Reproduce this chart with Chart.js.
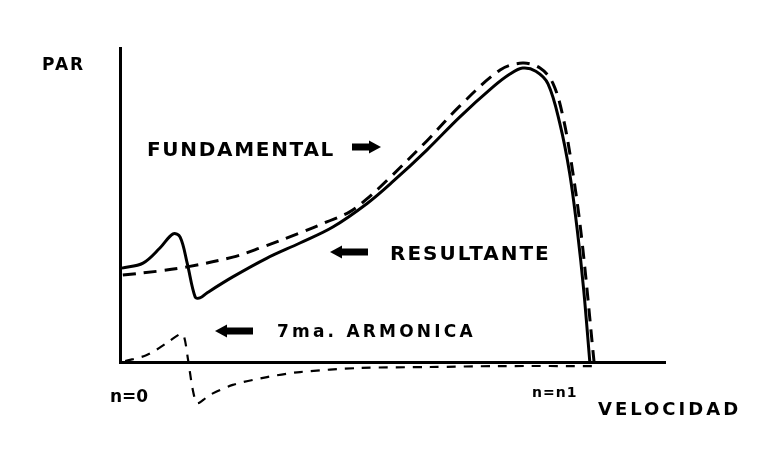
<!DOCTYPE html>
<html>
<head>
<meta charset="utf-8">
<script src="https://cdn.jsdelivr.net/npm/chart.js@4.4.1/dist/chart.umd.min.js"></script>
<style>
  html, body { margin: 0; padding: 0; background: #fff; }
</style>
</head>
<body>
<canvas id="diagramCanvas" width="782" height="466"></canvas>
<script>
// Par vs velocidad: x = n/n1, y = par relativo (0-100)
const resultanteX = [0.004, 0.049, 0.085, 0.113, 0.128, 0.143, 0.160, 0.170, 0.185, 0.240, 0.313, 0.383, 0.453, 0.526, 0.581, 0.653, 0.723, 0.794, 0.830, 0.857, 0.885, 0.911, 0.936, 0.957, 0.974, 0.987, 1.000];
const resultanteY = [29.9, 31.5, 36.3, 40.8, 39.8, 31.5, 20.7, 20.4, 22.0, 27.1, 33.1, 37.9, 43.0, 50.5, 57.5, 67.5, 78.0, 87.6, 91.7, 93.6, 92.6, 88.6, 76.1, 60.2, 41.1, 22.9, 0];

const fundamentalX = [0.006, 0.085, 0.143, 0.240, 0.298, 0.383, 0.440, 0.489, 0.526, 0.568, 0.653, 0.723, 0.809, 0.857, 0.894, 0.921, 0.943, 0.964, 0.983, 1.009];
const fundamentalY = [27.7, 29.0, 30.3, 33.4, 36.3, 41.1, 44.6, 47.8, 52.0, 57.8, 70.4, 81.5, 93.0, 95.2, 93.6, 88.9, 78.0, 60.2, 38.9, 0];

const armonicaX = [0.011, 0.057, 0.100, 0.128, 0.136, 0.145, 0.155, 0.164, 0.177, 0.191, 0.240, 0.313, 0.383, 0.511, 0.660, 0.809, 1.021];
const armonicaY = [0.3, 2.2, 6.1, 8.9, 8.3, 0.6, -8.9, -13.1, -12.1, -10.5, -7.3, -4.8, -3.2, -1.9, -1.6, -1.3, -1.3];

const FUENTE = '"DejaVu Sans", Arial, sans-serif';

// textos y flechas del dibujo (en pixeles)
const textos = [
    { t: 'PAR', x: 42, y: 70, size: 17, esp: 2 },
    { t: 'FUNDAMENTAL', x: 147, y: 156, size: 20, esp: 1.7 },
    { t: 'RESULTANTE', x: 390, y: 260, size: 20, esp: 2 },
    { t: '7ma. ARMONICA', x: 277, y: 337, size: 17, esp: 3.2 },
    { t: 'n=0', x: 110, y: 402, size: 17, esp: 0 },
    { t: 'n=n1', x: 532, y: 397, size: 14, esp: 1 },
    { t: 'VELOCIDAD', x: 598, y: 415, size: 18, esp: 3 }
];
const flechas = [
    { x1: 352, x2: 381, y: 147, dir: 1 },
    { x1: 330, x2: 368, y: 252, dir: -1 },
    { x1: 215, x2: 253, y: 331, dir: -1 }
];

function puntos(xs, ys) {
    return xs.map((x, i) => ({ x: x, y: ys[i] }));
}

const anotaciones = {
    id: 'anotaciones',
    afterDraw(chart) {
        const ctx = chart.ctx;
        ctx.save();
        ctx.fillStyle = '#000';
        ctx.textBaseline = 'alphabetic';
        textos.forEach(e => {
            ctx.font = 'bold ' + e.size + 'px ' + FUENTE;
            ctx.letterSpacing = e.esp + 'px';
            ctx.fillText(e.t, e.x, e.y);
        });
        // flechas gruesas
        flechas.forEach(f => {
            const punta = f.dir > 0 ? f.x2 : f.x1;
            const base = punta - f.dir * 12;
            ctx.fillRect(Math.min(f.x1, f.x2) + (f.dir > 0 ? 0 : 10), f.y - 3.5, Math.abs(f.x2 - f.x1) - 10, 7);
            ctx.beginPath();
            ctx.moveTo(punta, f.y);
            ctx.lineTo(base, f.y - 6.5);
            ctx.lineTo(base, f.y + 6.5);
            ctx.closePath();
            ctx.fill();
        });
        ctx.restore();
    }
};

const ctx = document.getElementById('diagramCanvas').getContext('2d');
const chart = new Chart(ctx, {
    type: 'line',
    data: {
        datasets: [
            {
                label: '7ma. Armonica',
                data: puntos(armonicaX, armonicaY),
                borderColor: '#000',
                borderWidth: 2.2,
                borderDash: [9, 8],
                pointRadius: 0,
                fill: false,
                tension: 0.3,
                clip: false
            },
            {
                label: 'Fundamental',
                data: puntos(fundamentalX, fundamentalY),
                borderColor: '#000',
                borderWidth: 3,
                borderDash: [13, 8],
                pointRadius: 0,
                fill: false,
                tension: 0.35,
                clip: false
            },
            {
                label: 'Resultante',
                data: puntos(resultanteX, resultanteY),
                borderColor: '#000',
                borderWidth: 3,
                pointRadius: 0,
                fill: false,
                tension: 0.35,
                clip: false
            }
        ]
    },
    options: {
        responsive: false,
        animation: false,
        layout: { padding: { left: 120, top: 48, right: 117, bottom: 104 } },
        plugins: {
            legend: { display: false },
            tooltip: { enabled: false }
        },
        scales: {
            x: {
                type: 'linear',
                min: 0,
                max: 1.16,
                grid: { display: false, drawTicks: false },
                ticks: { display: false },
                border: { color: '#000', width: 3 }
            },
            y: {
                type: 'linear',
                min: 0,
                max: 100,
                grid: { display: false, drawTicks: false },
                ticks: { display: false },
                border: { color: '#000', width: 3 }
            }
        }
    },
    plugins: [anotaciones]
});
</script>
</body>
</html>
